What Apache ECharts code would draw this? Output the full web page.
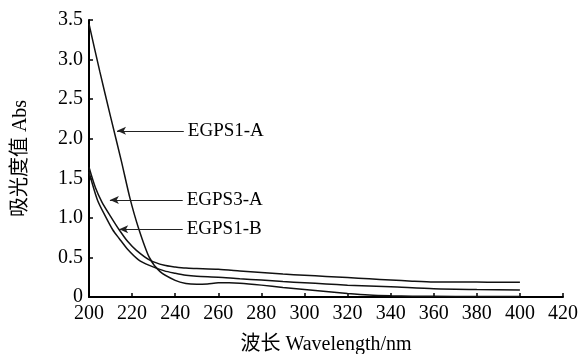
<!DOCTYPE html>
<html>
<head>
<meta charset="utf-8">
<script src="https://cdn.jsdelivr.net/npm/echarts@6/dist/echarts.min.js"></script>
<style>
  html, body { margin: 0; background: #fff; }
  #chart { width: 580px; height: 354px; }
</style>
</head>
<body>
<div id="chart"></div>
<script>
// wavelength (nm) / absorbance
const egps1aX = [200, 205, 210, 215, 219, 223, 228, 233, 240, 245, 250, 255, 260, 265, 270, 280, 290, 300, 310, 320, 330, 340, 350, 360, 380, 400];
const egps1aY = [3.45, 2.85, 2.28, 1.72, 1.25, 0.87, 0.50, 0.32, 0.21, 0.17, 0.16, 0.165, 0.18, 0.18, 0.175, 0.15, 0.12, 0.095, 0.07, 0.045, 0.025, 0.015, 0.01, 0.008, 0.005, 0.005];

const egps3aX = [200, 203, 206, 210, 214, 218, 222, 228, 235, 240, 245, 250, 260, 270, 280, 290, 300, 310, 320, 330, 340, 350, 360, 370, 380, 390, 400];
const egps3aY = [1.64, 1.38, 1.20, 1.02, 0.85, 0.70, 0.59, 0.47, 0.40, 0.38, 0.365, 0.36, 0.35, 0.33, 0.31, 0.29, 0.275, 0.26, 0.245, 0.23, 0.215, 0.20, 0.19, 0.19, 0.19, 0.185, 0.185];

const egps1bX = [200, 204, 208, 211, 214, 218, 223, 228, 235, 240, 245, 250, 260, 270, 280, 290, 300, 310, 320, 340, 360, 380, 400];
const egps1bY = [1.58, 1.22, 1.00, 0.85, 0.74, 0.60, 0.47, 0.40, 0.33, 0.30, 0.275, 0.262, 0.25, 0.23, 0.215, 0.195, 0.18, 0.165, 0.15, 0.13, 0.105, 0.095, 0.09];

// arrow annotations: [tip x, tip y], tail x
const seriesNames = ['EGPS1-A', 'EGPS3-A', 'EGPS1-B'];
const arrowTips = [[213, 2.10], [209.7, 1.226], [214, 0.856]];
const arrowTailX = [244, 243.5, 243.5];

const xTitle = '波长 Wavelength/nm';
const yTitle = '吸光度值 Abs';

const FONT = '"Liberation Serif", "Noto Sans CJK SC", serif';

const zip = (xs, ys) => xs.map((x, i) => [x, ys[i]]);
const seriesData = [zip(egps1aX, egps1aY), zip(egps3aX, egps3aY), zip(egps1bX, egps1bY)];

const chart = echarts.init(document.getElementById('chart'));

const axisCommon = {
  axisLine: { show: true, lineStyle: { color: '#000', width: 2 } },
  axisTick: { show: true, inside: true, length: 4, lineStyle: { color: '#000', width: 1.5 } },
  splitLine: { show: false },
  nameLocation: 'middle',
  nameTextStyle: { color: '#000', fontSize: 20, fontFamily: FONT }
};

const option = {
  animation: false,
  backgroundColor: '#fff',
  grid: { left: 89, right: 17, top: 20, bottom: 57, containLabel: false, outerBoundsMode: 'none' },
  xAxis: {
    ...axisCommon,
    type: 'value',
    min: 200,
    max: 420,
    interval: 20,
    name: xTitle,
    nameGap: 38,
    axisLabel: { color: '#000', fontSize: 20, fontFamily: FONT, margin: 7 }
  },
  yAxis: {
    ...axisCommon,
    type: 'value',
    min: 0,
    max: 3.5,
    interval: 0.5,
    name: yTitle,
    nameGap: 58,
    axisLabel: {
      color: '#000', fontSize: 20, fontFamily: FONT, margin: 6,
      formatter: v => (v === 0 ? '0' : v.toFixed(1))
    }
  },
  series: seriesNames.map((name, i) => ({
    name,
    type: 'line',
    data: seriesData[i],
    smooth: 0.25,
    showSymbol: false,
    lineStyle: { color: '#111', width: 1.5 },
    markLine: {
      silent: true,
      symbol: ['arrow', 'none'],
      symbolSize: [6, 9],
      lineStyle: { color: '#222', width: 1, type: 'solid' },
      label: {
        show: true,
        position: 'end',
        distance: 4,
        formatter: p => p.name,
        color: '#000',
        fontSize: 19,
        fontFamily: FONT
      },
      data: [[
        { coord: arrowTips[i], name },
        { coord: [arrowTailX[i], arrowTips[i][1]] }
      ]]
    }
  }))
};

chart.setOption(option);
</script>
</body>
</html>
